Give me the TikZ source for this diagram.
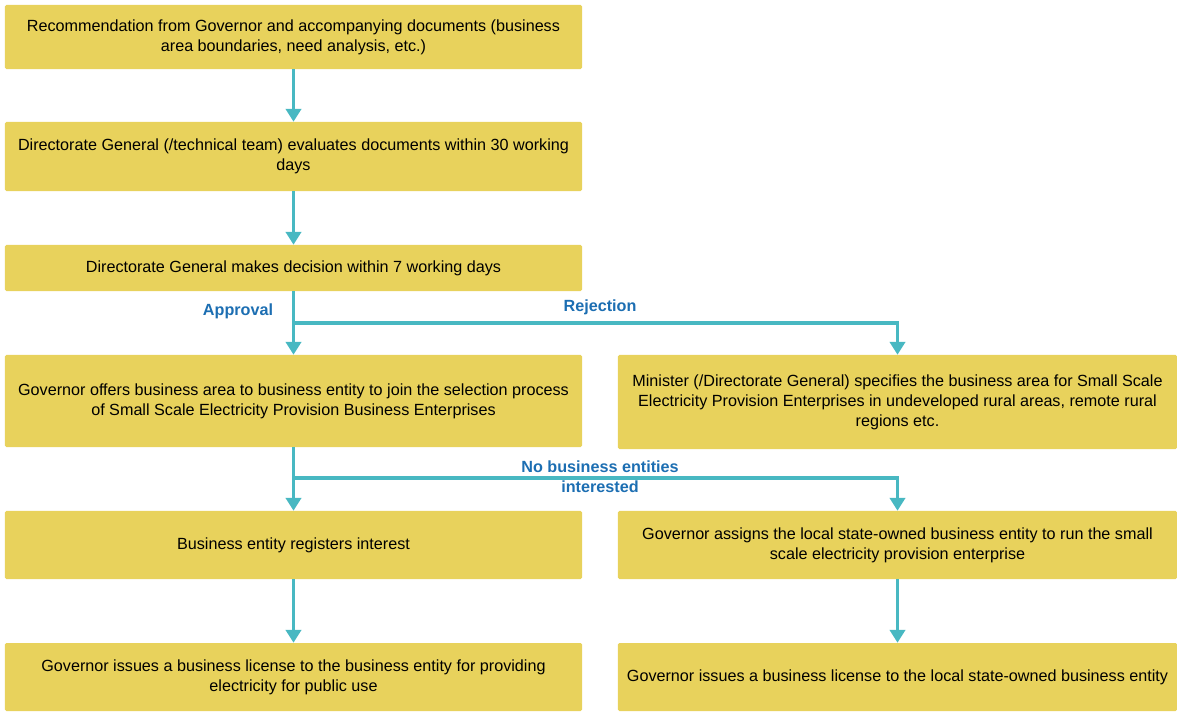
\documentclass[tikz,border=0pt]{standalone}
\usepackage{fontspec}
\setmainfont{Liberation Sans}
\usetikzlibrary{positioning, arrows.meta}
\definecolor{boxyellow}{RGB}{232,210,92}
\definecolor{flowteal}{RGB}{72,184,194}
\definecolor{labelblue}{RGB}{28,110,178}

\begin{document}
\begin{tikzpicture}[x=0.025cm,y=-0.025cm]
	\tikzstyle{stage}=[rectangle, fill=boxyellow, rounded corners=1pt, align=center, inner sep=0pt, font=\fontsize{11.5}{14.2}\selectfont]
	\tikzstyle{wide}=[stage, minimum width=14.425cm]
	\tikzstyle{narrow}=[stage, minimum width=13.975cm]
	\tikzstyle{flow}=[draw=flowteal, line width=2.2pt, -{Triangle[width=0.38cm,length=0.32cm]}]
	\tikzstyle{ann}=[text=labelblue, font=\bfseries\fontsize{11.5}{14.2}\selectfont, align=center]
	\useasboundingbox (0,0) rectangle (1177,711);
	% left column
	\node[wide, minimum height=1.6cm] (rec) at (293.5,37) {Recommendation from Governor and accompanying documents (business\\area boundaries, need analysis, etc.)};
	\node[wide, minimum height=1.725cm] (eval) at (293.5,156.5) {Directorate General (/technical team) evaluates documents within 30 working\\days};
	\node[wide, minimum height=1.15cm] (decide) at (293.5,268) {Directorate General makes decision within 7 working days};
	\node[wide, minimum height=2.3cm] (offer) at (293.5,401) {Governor offers business area to business entity to join the selection process\\of Small Scale Electricity Provision Business Enterprises};
	\node[wide, minimum height=1.7cm] (register) at (293.5,545) {Business entity registers interest};
	\node[wide, minimum height=1.7cm] (licpub) at (293.5,677) {Governor issues a business license to the business entity for providing\\electricity for public use};
	% right column
	\node[narrow, minimum height=2.35cm] (minister) at (897.5,402) {Minister (/Directorate General) specifies the business area for Small Scale\\Electricity Provision Enterprises in undeveloped rural areas, remote rural\\regions etc.};
	\node[narrow, minimum height=1.7cm] (assign) at (897.5,545) {Governor assigns the local state-owned business entity to run the small\\scale electricity provision enterprise};
	\node[narrow, minimum height=1.7cm] (licsoe) at (897.5,677) {Governor issues a business license to the local state-owned business entity};
	% connectors
	\draw[flow] (rec) -- (eval);
	\draw[flow] (eval) -- (decide);
	\draw[flow] (decide) -- (offer);
	\coordinate (rejfork) at (293.5,323);
	\draw[flow] (rejfork) -| (minister.north);
	\draw[flow] (offer) -- (register);
	\coordinate (nofork) at (293.5,478);
	\draw[flow] (nofork) -| (assign.north);
	\draw[flow] (register) -- (licpub);
	\draw[flow] (assign) -- (licsoe);
	% branch labels
	\node[ann] (approval) at (238,311) {Approval};
	\node[ann] (rejection) at (600,307) {Rejection};
	\node[ann] (nointerest) at (600,477) {No business entities\\interested};
\end{tikzpicture}
\end{document}
